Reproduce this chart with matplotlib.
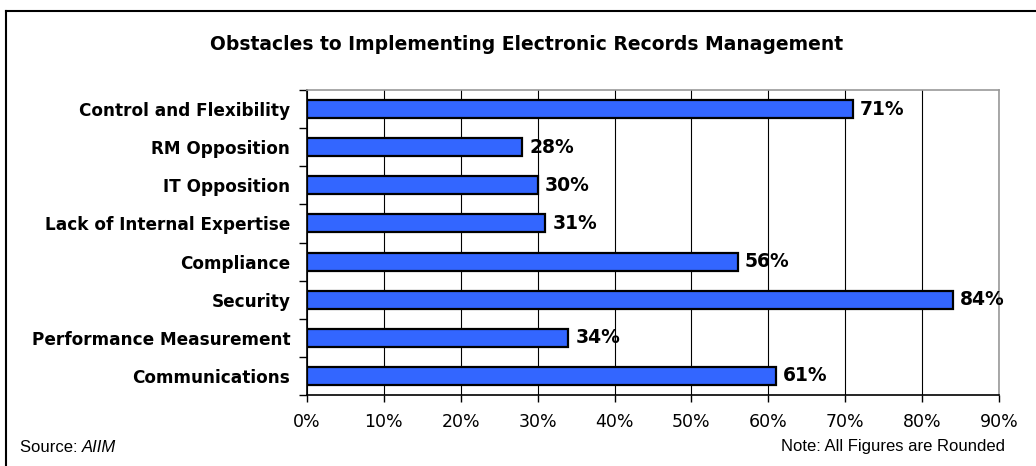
import matplotlib
matplotlib.use("Agg")
import matplotlib.pyplot as plt
from matplotlib.lines import Line2D
import numpy as np

categories = [
    "Control and Flexibility",
    "RM Opposition",
    "IT Opposition",
    "Lack of Internal Expertise",
    "Compliance",
    "Security",
    "Performance Measurement",
    "Communications",
]
values = [71, 28, 30, 31, 56, 84, 34, 61]
xticks = list(range(0, 100, 10))
xtick_labels = [f"{t}%" for t in xticks]

title = "Obstacles to Implementing Electronic Records Management"
source_note = "Source: "
source_name = "AIIM"
rounding_note = "Note: All Figures are Rounded"

fig = plt.figure(figsize=(10.36, 4.66), dpi=100)
ax = fig.add_axes([307 / 1036, 1 - 395 / 466, 692 / 1036, 305 / 466])

y = np.arange(len(categories))
ax.barh(y, values, height=0.47, color="#3366FF", edgecolor="black",
        linewidth=1.6, zorder=3)
for yi, v in zip(y, values):
    ax.text(v + 0.9, yi, f"{v}%", va="center", ha="left",
            fontsize=13.5, fontweight="bold", zorder=4)

ax.set_xlim(0, 90)
ax.set_ylim(len(categories) - 0.5, -0.5)
ax.set_xticks(xticks)
ax.set_xticklabels(xtick_labels, fontsize=12.5)
ax.set_yticks(y)
ax.set_yticklabels(categories, fontsize=12.2, fontweight="bold")
ax.tick_params(axis="y", length=0, pad=12)
ax.tick_params(axis="x", length=5, width=1, pad=8)

# category separator ticks on the left spine
ax.set_yticks(np.arange(-0.5, len(categories), 1), minor=True)
ax.tick_params(axis="y", which="minor", length=6, width=1)

ax.grid(axis="x", color="black", linewidth=0.8, zorder=0)
ax.spines["left"].set_color("black")
ax.spines["bottom"].set_color("black")
ax.spines["top"].set_color("#999999")
ax.spines["right"].set_color("#999999")
for s in ax.spines.values():
    s.set_linewidth(1.2)

fig.text(0.508, 1 - 45 / 466, title, ha="center", va="center",
         fontsize=13.5, fontweight="bold")
src = fig.text(20 / 1036, 1 - 447 / 466, source_note, ha="left",
               va="center", fontsize=12, family="Liberation Sans")
fig.canvas.draw()
bb = src.get_window_extent()
fig.text(bb.x1 / 1036, 1 - 447 / 466, source_name, ha="left", va="center",
         fontsize=12, family="Liberation Sans", style="italic")
fig.text(1005 / 1036, 1 - 447 / 466, rounding_note, ha="right",
         va="center", fontsize=12, family="Liberation Sans")

# outer frame: left and top edges
fig.add_artist(Line2D([6 / 1036, 6 / 1036], [0, 1 - 11 / 466],
                      transform=fig.transFigure, color="black", linewidth=1.5))
fig.add_artist(Line2D([6 / 1036, 1], [1 - 11 / 466, 1 - 11 / 466],
                      transform=fig.transFigure, color="black", linewidth=1.5))

fig.savefig("out.png", dpi=100)
